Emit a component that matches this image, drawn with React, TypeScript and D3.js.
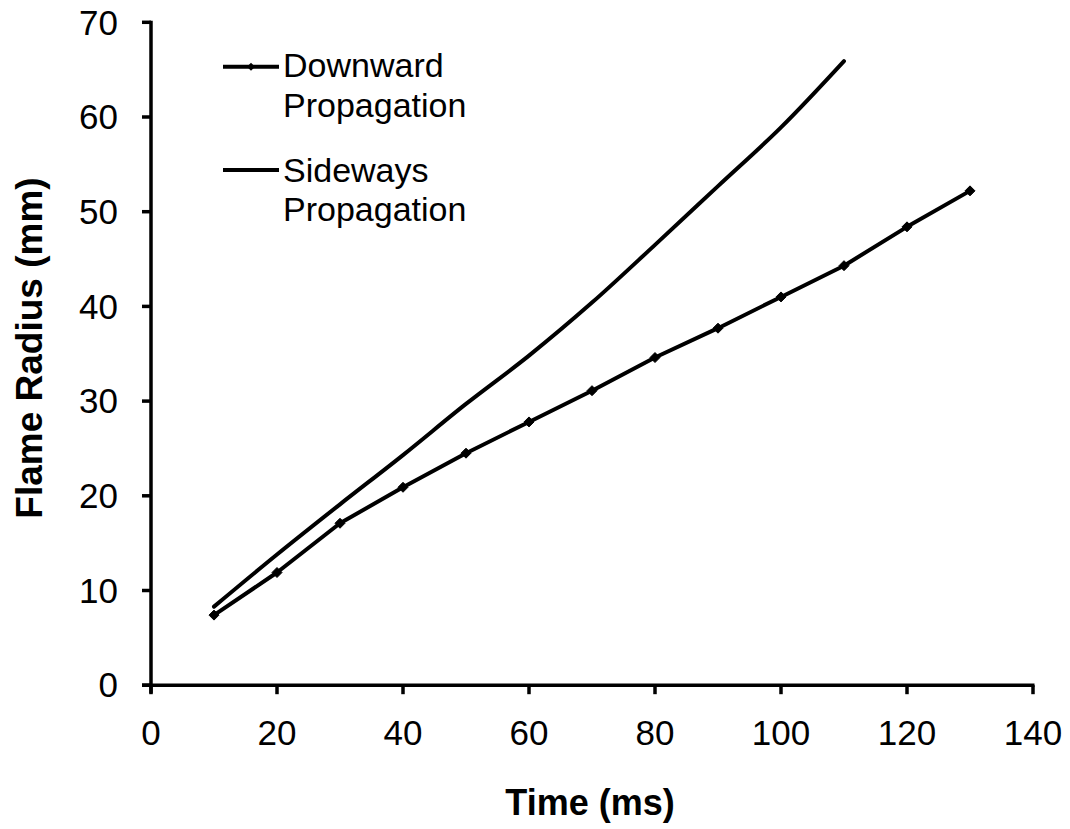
import React from "react";
import * as d3 from "d3";

const times = [10, 20, 30, 40, 50, 60, 70, 80, 90, 100, 110, 120, 130];
const downward = [7.4, 11.9, 17.1, 20.9, 24.5, 27.8, 31.1, 34.6, 37.7, 41.0, 44.3, 48.4, 52.2];
const sidewaysTimes = [10, 20, 30, 40, 50, 60, 70, 80, 90, 100, 110];
const sideways = [8.3, 13.8, 19.1, 24.3, 29.7, 34.8, 40.4, 46.5, 52.7, 58.9, 65.9];
const xTicks = [0, 20, 40, 60, 80, 100, 120, 140];
const yTicks = [0, 10, 20, 30, 40, 50, 60, 70];
const legendLabels = [["Downward", "Propagation"], ["Sideways", "Propagation"]];

const W = 1070;
const H = 829;
const FONT = "'Liberation Sans', Arial, sans-serif";

export default function App() {
  const x = d3.scaleLinear().domain([0, 140]).range([151, 1033]);
  const y = d3.scaleLinear().domain([0, 70]).range([685.2, 22.3]);

  const downPts: [number, number][] = times.map((t, i) => [x(t), y(downward[i])]);
  const sidePts: [number, number][] = sidewaysTimes.map((t, i) => [x(t), y(sideways[i])]);

  const lineLin = d3.line().curve(d3.curveLinear);
  const lineSmooth = d3.line().curve(d3.curveCatmullRom.alpha(0.5));

  const diamond = (cx: number, cy: number, r: number) =>
    `M${cx},${cy - r}L${cx + r},${cy}L${cx},${cy + r}L${cx - r},${cy}Z`;

  const axisY0 = y(0);
  const axisX0 = x(0);

  return (
    <svg
      width={W}
      height={H}
      style={{ position: "absolute", left: 0, top: 0, background: "#fff" }}
      fontFamily={FONT}
    >
      <rect x={0} y={0} width={W} height={H} fill="#fff" />
      {/* axes */}
      <line x1={axisX0} x2={axisX0} y1={y(70) - 1.5} y2={axisY0 + 8} stroke="#000" strokeWidth={3.5} />
      <line x1={axisX0 - 9} x2={x(140) + 1.5} y1={axisY0} y2={axisY0} stroke="#000" strokeWidth={3.5} />
      {yTicks.map((t) => (
        <g key={"y" + t}>
          <line x1={axisX0 - 9} x2={axisX0} y1={y(t)} y2={y(t)} stroke="#000" strokeWidth={3.5} />
          <text x={118} y={y(t)} dy="0.35em" textAnchor="end" fontSize={35}>
            {t}
          </text>
        </g>
      ))}
      {xTicks.map((t) => (
        <g key={"x" + t}>
          <line x1={x(t)} x2={x(t)} y1={axisY0} y2={axisY0 + 9} stroke="#000" strokeWidth={3.5} />
          <text x={x(t)} y={745} textAnchor="middle" fontSize={35}>
            {t}
          </text>
        </g>
      ))}
      {/* axis titles */}
      <text x={590} y={815} textAnchor="middle" fontSize={36} fontWeight="bold">
        Time (ms)
      </text>
      <text
        transform={`translate(42, 348) rotate(-90)`}
        textAnchor="middle"
        fontSize={37}
        fontWeight="bold"
      >
        Flame Radius (mm)
      </text>
      {/* series */}
      <path d={lineSmooth(sidePts) || ""} fill="none" stroke="#000" strokeWidth={4} strokeLinecap="round" />
      <path d={lineLin(downPts) || ""} fill="none" stroke="#000" strokeWidth={4} strokeLinejoin="round" />
      {downPts.map(([cx, cy], i) => (
        <path key={"m" + i} d={diamond(cx, cy, 5)} fill="#000" stroke="#000" strokeWidth={1} />
      ))}
      {/* legend */}
      <line x1={223} x2={279} y1={66.7} y2={66.7} stroke="#000" strokeWidth={4} />
      <path d={diamond(251, 66.7, 4)} fill="#000" />
      <text x={283} y={77} fontSize={34}>{legendLabels[0][0]}</text>
      <text x={283} y={117} fontSize={34}>{legendLabels[0][1]}</text>
      <line x1={223} x2={279} y1={170} y2={170} stroke="#000" strokeWidth={4} />
      <text x={283} y={182} fontSize={34}>{legendLabels[1][0]}</text>
      <text x={283} y={221} fontSize={34}>{legendLabels[1][1]}</text>
    </svg>
  );
}
